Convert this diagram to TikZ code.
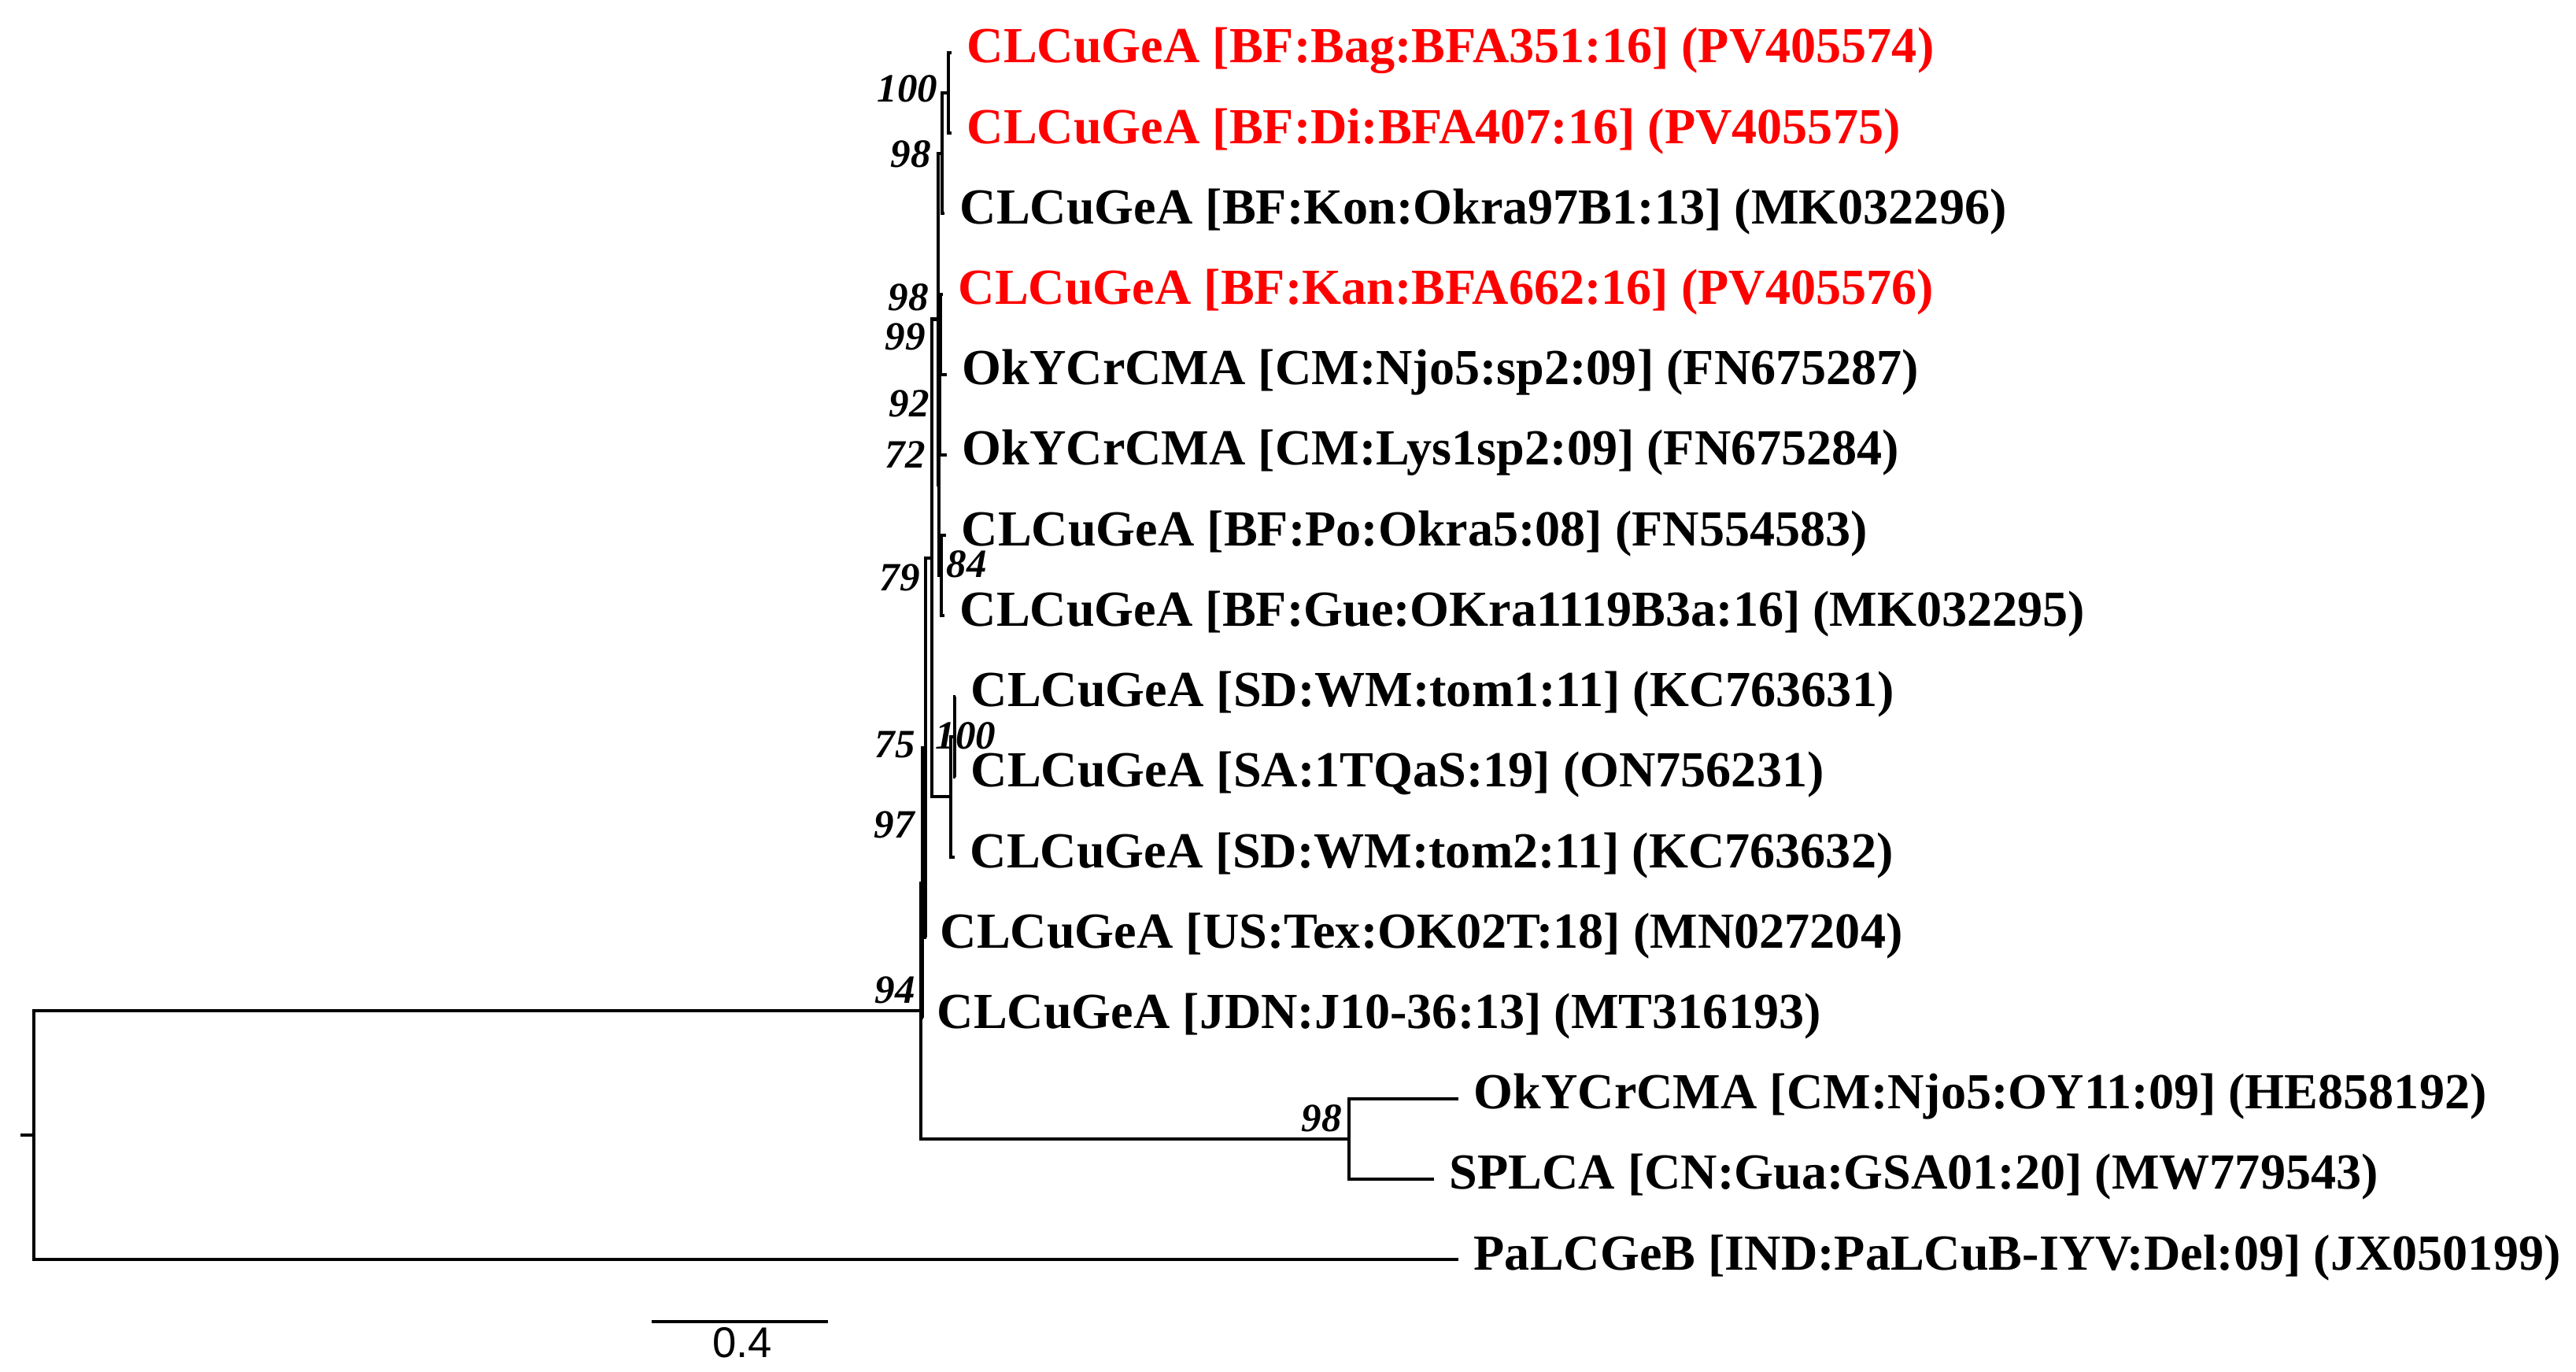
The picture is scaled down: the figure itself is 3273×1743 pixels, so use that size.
\documentclass[tikz,border=0pt]{standalone}
\usepackage{fontspec}
\setmainfont{Liberation Serif}
\newfontfamily\barfont{Liberation Sans}
\begin{document}
\begin{tikzpicture}[x=0.01cm,y=-0.01cm,
  branch/.style={line width=1.15pt},
  leaf/.style={font=\bfseries\fontsize{18.25}{20}\selectfont, inner sep=0pt, anchor=base west, text height=12.5pt, text depth=2pt},
  newseq/.style={leaf, text=red},
  boot/.style={font=\bfseries\itshape\fontsize{14.5}{16}\selectfont, inner sep=0pt, text height=9.8pt, text depth=0pt}]
\useasboundingbox (0,0) rectangle (3273,1743);
% internal nodes
\coordinate (stub) at (26,1442.1);
\coordinate (root) at (43,1442.1);
\coordinate (n94) at (1170,1284.2);
\coordinate (n97) at (1172,1121.7);
\coordinate (n98c) at (1714,1446.7);
\coordinate (n75) at (1176,950);
\coordinate (n79) at (1184,708.9);
\coordinate (ny) at (1208,1012.35);
\coordinate (n100b) at (1213,935.7);
\coordinate (nx) at (1192,405.5);
\coordinate (n98a) at (1197,194.75);
\coordinate (n100a) at (1205,118.1);
\coordinate (ne) at (1193,616.3);
\coordinate (nf) at (1194,501.35);
\coordinate (nf1) at (1195,424.7);
\coordinate (n84) at (1196,731.3);
% leaf tips
\coordinate (t1) at (1209,67);
\coordinate (t2) at (1209,169.2);
\coordinate (t3) at (1200,271.4);
\coordinate (t4) at (1198,373.6);
\coordinate (t5) at (1203,475.8);
\coordinate (t6) at (1203,578);
\coordinate (t7) at (1202,680.2);
\coordinate (t8) at (1200,782.4);
\coordinate (t9) at (1214,884.6);
\coordinate (t10) at (1214,986.8);
\coordinate (t11) at (1213,1089);
\coordinate (t12) at (1177,1191.2);
\coordinate (t13) at (1173,1293.4);
\coordinate (t14) at (1853,1395.6);
\coordinate (t15) at (1822,1497.8);
\coordinate (t16) at (1853,1600);
% branches
\draw[branch] (stub) -- (root);
\foreach \p/\c in {root/n94, root/t16, n94/n97, n94/n98c, n98c/t14, n98c/t15,
  n97/n75, n97/t13, n75/n79, n75/t12, n79/nx, n79/ny, ny/n100b, ny/t11,
  n100b/t9, n100b/t10, nx/n98a, nx/ne, n98a/n100a, n98a/t3, n100a/t1, n100a/t2,
  ne/nf, ne/n84, nf/nf1, nf/t6, nf1/t4, nf1/t5, n84/t7, n84/t8}
  \draw[branch] (\p) |- (\c);
% leaf labels
\path (t1) ++(19,13) node[newseq] (l1) {CLCuGeA [BF:Bag:BFA351:16] (PV405574)};
\path (t2) ++(19,13) node[newseq] (l2) {CLCuGeA [BF:Di:BFA407:16] (PV405575)};
\path (t3) ++(19,13) node[leaf] (l3) {CLCuGeA [BF:Kon:Okra97B1:13] (MK032296)};
\path (t4) ++(19,13) node[newseq] (l4) {CLCuGeA [BF:Kan:BFA662:16] (PV405576)};
\path (t5) ++(19,13) node[leaf] (l5) {OkYCrCMA [CM:Njo5:sp2:09] (FN675287)};
\path (t6) ++(19,13) node[leaf] (l6) {OkYCrCMA [CM:Lys1sp2:09] (FN675284)};
\path (t7) ++(19,13) node[leaf] (l7) {CLCuGeA [BF:Po:Okra5:08] (FN554583)};
\path (t8) ++(19,13) node[leaf] (l8) {CLCuGeA [BF:Gue:OKra1119B3a:16] (MK032295)};
\path (t9) ++(19,13) node[leaf] (l9) {CLCuGeA [SD:WM:tom1:11] (KC763631)};
\path (t10) ++(19,13) node[leaf] (l10) {CLCuGeA [SA:1TQaS:19] (ON756231)};
\path (t11) ++(19,13) node[leaf] (l11) {CLCuGeA [SD:WM:tom2:11] (KC763632)};
\path (t12) ++(17,13) node[leaf] (l12) {CLCuGeA [US:Tex:OK02T:18] (MN027204)};
\path (t13) ++(17,13) node[leaf] (l13) {CLCuGeA [JDN:J10-36:13] (MT316193)};
\path (t14) ++(19,13) node[leaf] (l14) {OkYCrCMA [CM:Njo5:OY11:09] (HE858192)};
\path (t15) ++(19,13) node[leaf] (l15) {SPLCA [CN:Gua:GSA01:20] (MW779543)};
\path (t16) ++(19,13) node[leaf] (l16) {PaLCGeB [IND:PaLCuB-IYV:Del:09] (JX050199)};
% bootstrap values
\node[boot] (b100a) at (1153,112) {100};
\node[boot] (b98a) at (1157,195) {98};
\node[boot] (b98b) at (1154,377) {98};
\node[boot] (b99) at (1150,427) {99};
\node[boot] (b92) at (1155,512) {92};
\node[boot] (b72) at (1150,577) {72};
\node[boot] (b84) at (1228,716) {84};
\node[boot] (b79) at (1143,733) {79};
\node[boot] (b75) at (1137,945) {75};
\node[boot] (b100b) at (1227,934) {100};
\node[boot] (b97) at (1136,1047) {97};
\node[boot] (b94) at (1137,1257) {94};
\node[boot] (b98c) at (1679,1420) {98};
% scale bar
\coordinate (sb1) at (828,1679);
\coordinate (sb2) at (1052,1679);
\draw[branch] (sb1) -- (sb2);
\node[font=\barfont\fontsize{15.5}{17}\selectfont, inner sep=0pt] (sbl) at (943,1706) {0.4};
\end{tikzpicture}
\end{document}
